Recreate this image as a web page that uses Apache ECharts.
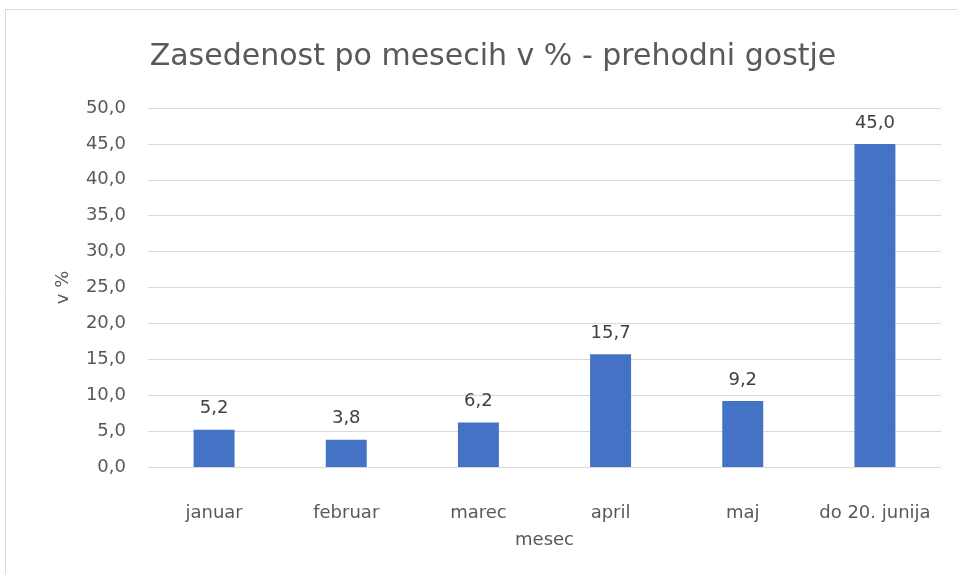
<!DOCTYPE html>
<html>
<head>
    <meta charset="utf-8">
    <title>Zasedenost</title>
    <script src="https://cdn.jsdelivr.net/npm/echarts@6/dist/echarts.min.js"></script>
    <style>
        html, body { margin: 0; padding: 0; background: #fff; }
    </style>
</head>
<body>
<div id="main" style="width: 957px;height:574px;"></div>
<script type="text/javascript">
    // podatki
    var months = ['januar', 'februar', 'marec', 'april', 'maj', 'do 20. junija'];
    var occupancy = [5.2, 3.8, 6.2, 15.7, 9.2, 45.0];

    var fmt = function (v) { return Number(v).toFixed(1).replace('.', ','); };
    var font = 'DejaVu Sans, Liberation Sans, sans-serif';

    var myChart = echarts.init(document.getElementById('main'));

    var option = {
        animation: false,
        textStyle: { fontFamily: font },
        title: {
            text: 'Zasedenost po mesecih v % - prehodni gostje',
            left: 488,
            top: 37,
            textAlign: 'center',
            textStyle: { fontFamily: font, fontSize: 30, fontWeight: 'normal', color: '#595959' }
        },
        graphic: [{
            type: 'rect',
            shape: { x: 5.5, y: 9.5, width: 1200, height: 1200 },
            style: { fill: 'none', stroke: '#d9d9d9', lineWidth: 1 },
            silent: true
        }],
        grid: { left: 148, right: 16, top: 108, bottom: 107 },
        xAxis: {
            type: 'category',
            data: months,
            name: 'mesec',
            nameLocation: 'middle',
            nameGap: 64,
            nameTextStyle: { fontFamily: font, fontSize: 18, color: '#595959' },
            axisLine: { show: false },
            axisTick: { show: false },
            axisLabel: { interval: 0, hideOverlap: false, fontFamily: font, fontSize: 18, color: '#595959', margin: 37 }
        },
        yAxis: {
            type: 'value',
            min: 0,
            max: 50,
            interval: 5,
            name: 'v %',
            nameLocation: 'middle',
            nameGap: 76,
            nameRotate: 90,
            nameTextStyle: { fontFamily: font, fontSize: 18, color: '#595959' },
            axisLine: { show: false },
            axisTick: { show: false },
            axisLabel: { fontFamily: font, fontSize: 18, color: '#595959', margin: 22, formatter: fmt },
            splitLine: { lineStyle: { color: '#d9d9d9', width: 1 } }
        },
        series: [{
            type: 'bar',
            data: occupancy,
            barWidth: '31%',
            itemStyle: { color: '#4472c4' },
            label: {
                show: true,
                position: 'top',
                distance: 12,
                fontFamily: font,
                fontSize: 18,
                color: '#404040',
                formatter: function (p) { return fmt(p.value); }
            }
        }]
    };
    myChart.setOption(option);
</script>
</body>
</html>
